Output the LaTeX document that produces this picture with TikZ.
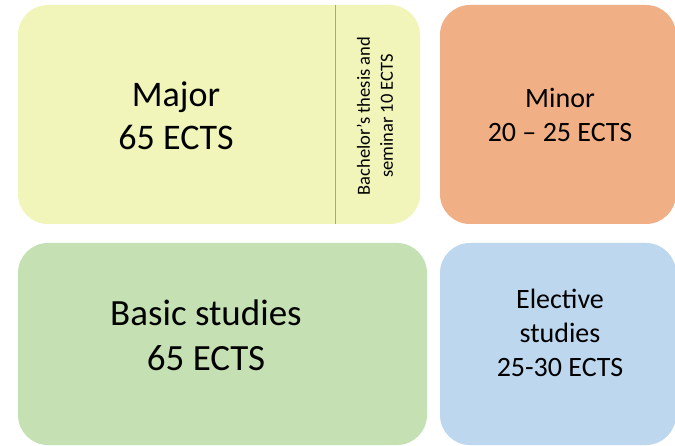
\documentclass[tikz,border=0pt]{standalone}
\usepackage{fontspec}
\setmainfont{Carlito}
\definecolor{majorfill}{HTML}{F1F5B9}
\definecolor{minorfill}{HTML}{F0AF84}
\definecolor{basicfill}{HTML}{C5E0B3}
\definecolor{electivefill}{HTML}{BDD7EE}
\definecolor{divider}{HTML}{8FAAB0}
\begin{document}
\begin{tikzpicture}[x=1pt,y=-1pt,
  card/.style={rounded corners=30pt, draw=none},
  label/.style={align=center, text=black, inner sep=0pt}]
\useasboundingbox[fill=white] (0,0) rectangle (675,446);
% boxes
\path[card, fill=majorfill] (18,5) rectangle (420,224);
\node[inner sep=0pt, minimum width=402pt, minimum height=219pt] (major) at (219,114.5) {};
\path[card, fill=minorfill] (440,5) rectangle (676,224);
\node[inner sep=0pt, minimum width=236pt, minimum height=219pt] (minor) at (558,114.5) {};
\path[card, fill=basicfill] (18,243) rectangle (427,445);
\node[inner sep=0pt, minimum width=409pt, minimum height=202pt] (basic) at (222.5,344) {};
\path[card, fill=electivefill] (440,243) rectangle (676,445);
\node[inner sep=0pt, minimum width=236pt, minimum height=202pt] (elective) at (558,344) {};
% divider in major box
\coordinate (divtop) at (335,5);
\coordinate (divbot) at (335,224);
\draw[divider, line width=1pt] (divtop) -- (divbot);
% texts
\node[label, font=\fontsize{36}{43}\selectfont] (majortext) at (176,116) {Major\\65 ECTS};
\node[label, font=\fontsize{18.5}{23}\selectfont, rotate=90] (thesis) at (375,116) {Bachelor’s thesis and\\seminar 10 ECTS};
\node[label, font=\fontsize{28}{34}\selectfont] (minortext) at (560,115) {Minor\\20 – 25 ECTS};
\node[label, font=\fontsize{37}{45}\selectfont] (basictext) at (206,335) {Basic studies\\65 ECTS};
\node[label, font=\fontsize{28}{34}\selectfont] (electivetext) at (560,333) {Elective\\studies\\25-30 ECTS};
\end{tikzpicture}
\end{document}
